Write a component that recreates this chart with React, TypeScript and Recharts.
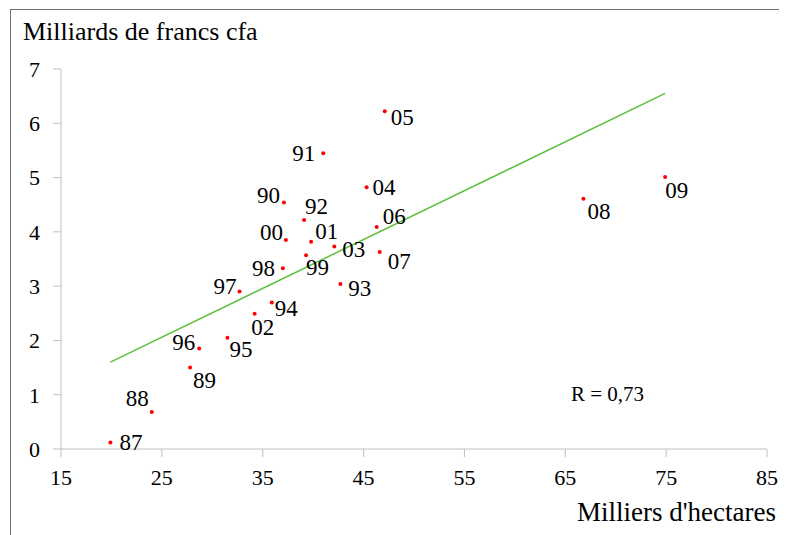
import { ScatterChart, Scatter, XAxis, YAxis, Customized } from 'recharts'

// années (libellés des points)
const years = ['87', '88', '89', '90', '91', '92', '93', '94', '95', '96', '97', '98', '99', '00', '01', '02', '03', '04', '05', '06', '07', '08', '09']
// superficie (milliers d'hectares)
const hectares = [19.9, 24.0, 27.8, 37.1, 41.0, 39.1, 42.7, 35.9, 31.5, 28.7, 32.7, 37.0, 39.3, 37.3, 39.8, 34.2, 42.1, 45.3, 47.1, 46.3, 46.6, 66.8, 74.9]
// valeur (milliards de francs cfa)
const milliards = [0.12, 0.68, 1.5, 4.54, 5.45, 4.22, 3.04, 2.7, 2.05, 1.85, 2.9, 3.33, 3.57, 3.85, 3.82, 2.49, 3.73, 4.82, 6.22, 4.09, 3.63, 4.61, 5.01]

// droite de tendance (extrémités)
const trendX = [19.9, 74.9]
const trendY = [1.6, 6.55]

const xTicks = [15, 25, 35, 45, 55, 65, 75, 85]
const yTicks = [0, 1, 2, 3, 4, 5, 6, 7]

const points = years.map((y, i) => ({ label: y, x: hectares[i], y: milliards[i] }))
const trend = trendX.map((x, i) => ({ x, y: trendY[i] }))

// placement des étiquettes autour de chaque point
const placement: Record<string, [number, number, 'start' | 'end' | 'middle']> = {
  '87': [9, 0, 'start'],
  '88': [-3, -14, 'end'],
  '89': [3, 13, 'start'],
  '90': [-4, -7, 'end'],
  '91': [-8, 0, 'end'],
  '92': [1, -13, 'start'],
  '93': [8, 5, 'start'],
  '94': [3, 6, 'start'],
  '95': [2, 12, 'start'],
  '96': [-4, -6, 'end'],
  '97': [-3, -5, 'end'],
  '98': [-8, 0, 'end'],
  '99': [0, 12, 'start'],
  '00': [-3, -8, 'end'],
  '01': [4, -10, 'start'],
  '02': [8, 14, 'middle'],
  '03': [8, 3, 'start'],
  '04': [6, 0, 'start'],
  '05': [6, 6, 'start'],
  '06': [6, -10, 'start'],
  '07': [8, 10, 'start'],
  '08': [4, 13, 'start'],
  '09': [0, 13, 'start'],
}

const serif = 'Liberation Serif, Times New Roman, serif'

const Dot = (props: any) => {
  const { cx, cy, payload } = props
  const [dx, dy, anchor] = placement[payload.label] || [6, 0, 'start']
  return (
    <g>
      <circle cx={cx} cy={cy} r={2} fill='#ff0000' />
      <text
        x={cx + dx}
        y={cy + dy}
        textAnchor={anchor}
        dominantBaseline='central'
        fontFamily={serif}
        fontSize={23}
        fill='#000'
      >
        {payload.label}
      </text>
    </g>
  )
}

export default function App() {
  return (
    <div style={{ width: 779, height: 527, position: 'relative', overflow: 'hidden', fontFamily: serif }}>
      <div
        style={{
          position: 'absolute',
          left: 2,
          top: 1,
          width: 900,
          height: 700,
          border: '1.5px solid #707070',
        }}
      />
      <ScatterChart width={779} height={527} margin={{ top: 61, right: 20, bottom: 46, left: 0 }}>
        <XAxis
          type='number'
          dataKey='x'
          domain={[15, 85]}
          ticks={xTicks}
          interval={0}
          stroke='#c0c0c0'
          tickSize={8}
          tickMargin={12}
          height={40}
          tick={{ fill: '#000', fontFamily: serif, fontSize: 22 }}
        />
        <YAxis
          type='number'
          dataKey='y'
          domain={[0, 7]}
          ticks={yTicks}
          interval={0}
          stroke='#c0c0c0'
          tickSize={8}
          tickMargin={13}
          width={53}
          tick={{ fill: '#000', fontFamily: serif, fontSize: 22 }}
        />
        <Scatter
          data={trend}
          line={{ stroke: '#5bbf3c', strokeWidth: 1.5 }}
          shape={() => <g />}
          isAnimationActive={false}
        />
        <Scatter data={points} shape={Dot} isAnimationActive={false} />
        <Customized
          component={() => (
            <g fontFamily={serif} fill='#000'>
              <text x={15} y={32} fontSize={26}>Milliards de francs cfa</text>
              <text x={768} y={513} fontSize={27} textAnchor='end'>Milliers d'hectares</text>
              <text x={563} y={386} fontSize={21} dominantBaseline='central'>R = 0,73</text>
            </g>
          )}
        />
      </ScatterChart>
    </div>
  )
}
